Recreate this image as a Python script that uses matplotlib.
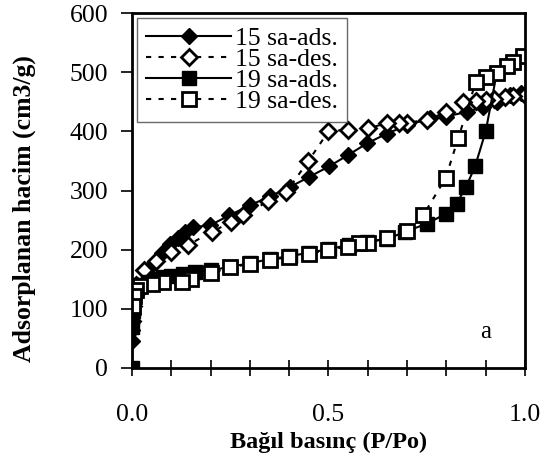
import matplotlib.pyplot as plt
from matplotlib.ticker import MultipleLocator

plt.rcParams['font.family'] = ['Liberation Serif', 'DejaVu Serif']

# 15 sa - adsorpsiyon
x15_ads = [0.0, 0.0005, 0.001, 0.0015, 0.002, 0.003, 0.004, 0.006, 0.008, 0.012,
           0.046, 0.076, 0.097, 0.117, 0.135, 0.155, 0.198, 0.248, 0.30, 0.351,
           0.402, 0.451, 0.502, 0.55, 0.599, 0.648, 0.699, 0.758, 0.80, 0.852,
           0.894, 0.928, 0.962, 0.99, 1.0]
y15_ads = [45, 65, 80, 92, 102, 110, 118, 125, 132, 140,
           170, 194, 209, 220, 230, 238, 241, 258, 275, 290,
           306, 323, 341, 360, 380, 396, 410, 422, 425, 433,
           441, 450, 461, 464, 462]

# 15 sa - desorpsiyon
x15_des = [1.0, 0.97, 0.95, 0.92, 0.90, 0.875, 0.843, 0.80, 0.75, 0.70, 0.68,
           0.65, 0.60, 0.55, 0.50, 0.449, 0.393, 0.347, 0.283, 0.253, 0.203,
           0.143, 0.10, 0.06, 0.03, 0.01, 0.005, 0.002, 0.0]
y15_des = [462, 460, 458, 455, 453, 452, 450, 432, 420, 414, 414,
           414, 405, 403, 400, 350, 298, 282, 258, 247, 230,
           208, 196, 180, 165, 140, 125, 105, 80]

# 19 sa - adsorpsiyon
x19_ads = [0.0, 0.0005, 0.001, 0.0015, 0.002, 0.003, 0.004, 0.006, 0.008, 0.012,
           0.02, 0.04, 0.06, 0.08, 0.10, 0.13, 0.16, 0.20, 0.249, 0.30,
           0.35, 0.402, 0.451, 0.502, 0.551, 0.597, 0.648, 0.695, 0.75, 0.80,
           0.826, 0.85, 0.873, 0.90, 0.928, 0.953, 0.97, 0.996]
y19_ads = [0, 70, 85, 97, 106, 114, 120, 126, 130, 135,
           140, 146, 150, 153, 156, 159, 162, 165, 171, 177,
           184, 189, 195, 201, 208, 213, 218, 230, 244, 261,
           278, 306, 341, 400, 498, 510, 517, 528]

# 19 sa - desorpsiyon
x19_des = [0.996, 0.97, 0.953, 0.928, 0.90, 0.875, 0.83, 0.798, 0.741, 0.70,
           0.65, 0.60, 0.578, 0.55, 0.50, 0.45, 0.40, 0.35, 0.30, 0.25,
           0.20, 0.15, 0.126, 0.08, 0.05, 0.02, 0.01, 0.005, 0.002]
y19_des = [528, 517, 510, 498, 492, 484, 388, 321, 258, 232,
           220, 212, 211, 205, 200, 193, 188, 182, 176, 170,
           160, 150, 146, 145, 142, 138, 132, 122, 105]

fig = plt.figure(figsize=(5.49, 4.63), dpi=100)
ax = fig.add_axes([0.2404, 0.2052, 0.7159, 0.7667])

dash = (0, (2.5, 3.5))
ax.plot(x15_ads, y15_ads, '-', color='black', lw=1.5, marker='D', ms=8,
        mfc='black', mec='black', label='15 sa-ads.')
ax.plot(x15_des, y15_des, linestyle=dash, color='black', lw=1.5, marker='D',
        ms=8, mfc='white', mec='black', mew=2, label='15 sa-des.')
ax.plot(x19_ads, y19_ads, '-', color='black', lw=1.5, marker='s', ms=10.5,
        mfc='black', mec='black', label='19 sa-ads.')
ax.plot(x19_des, y19_des, linestyle=dash, color='black', lw=1.5, marker='s',
        ms=10, mfc='white', mec='black', mew=2, label='19 sa-des.')

ax.set_xlim(0, 1.0)
ax.set_ylim(0, 600)
ax.xaxis.set_major_locator(MultipleLocator(0.5))
ax.xaxis.set_minor_locator(MultipleLocator(0.1))
ax.yaxis.set_major_locator(MultipleLocator(100))
ax.xaxis.set_major_formatter(plt.FuncFormatter(lambda v, p: f'{v:.1f}'))

ax.tick_params(axis='x', which='both', direction='inout', length=12, width=1.2,
               labelsize=18.5, pad=20)
ax.tick_params(axis='y', which='major', direction='out', length=8, width=1.2,
               labelsize=18.5, pad=9)
for s in ax.spines.values():
    s.set_linewidth(2)

ax.set_xlabel('Bağıl basınç (P/Po)', fontsize=17.5, fontweight='bold', labelpad=4)
ax.set_ylabel('Adsorplanan hacim (cm3/g)', fontsize=18.5, fontweight='bold')
ax.yaxis.set_label_coords(-0.244, 0.448)

ax.text(0.9, 0.1, 'a', transform=ax.transAxes, fontsize=18,
        ha='center', va='center')

leg = ax.legend(loc='upper left', fontsize=18.5, frameon=True, fancybox=False,
                edgecolor='#444444', handlelength=3.3, labelspacing=-0.08,
                borderpad=0.35, handletextpad=0.15, borderaxespad=0.2)
leg.get_frame().set_linewidth(1.0)

fig.savefig('out.png', dpi=100)
